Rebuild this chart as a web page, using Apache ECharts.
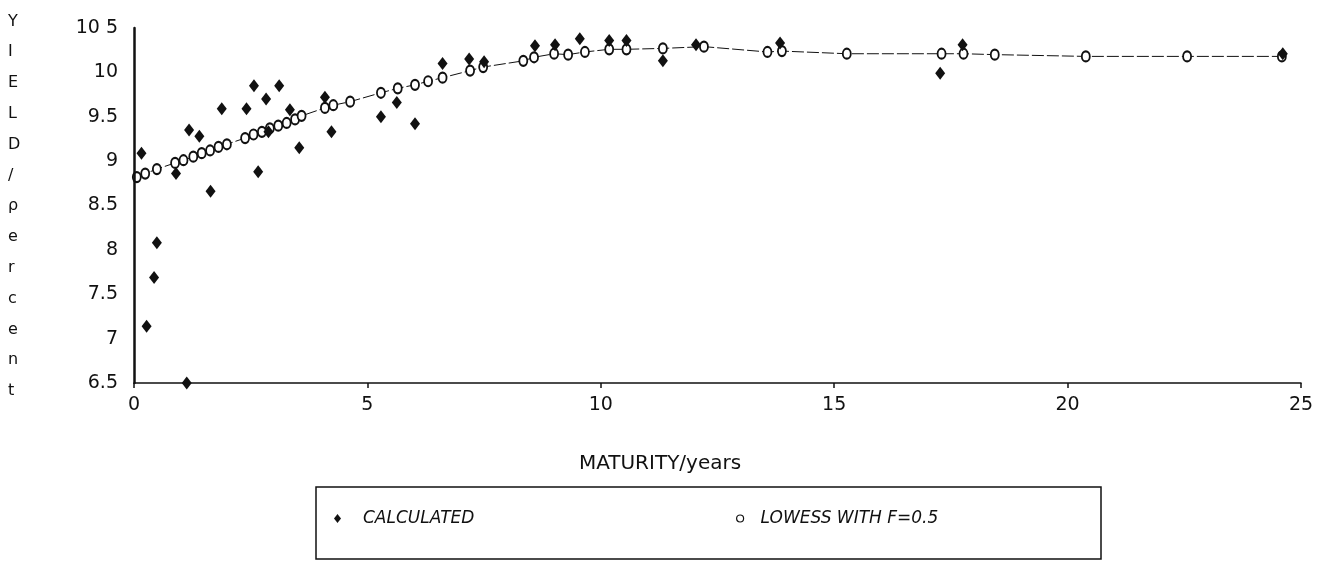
<!DOCTYPE html>
<html>
<head>
<meta charset="utf-8">
<script src="https://cdn.jsdelivr.net/npm/echarts@6/dist/echarts.min.js"></script>
<style>
html,body{margin:0;padding:0;background:#fff;}
#chart{width:1320px;height:562px;}
</style>
</head>
<body>
<div id="chart"></div>
<script>
// ---- data ----
var calcX = [0.16,0.27,0.43,0.49,0.90,1.13,1.18,1.40,1.64,1.88,2.41,2.57,2.66,2.83,2.88,3.11,3.34,3.54,4.09,4.23,5.29,5.63,6.02,6.61,7.18,7.50,8.59,9.02,9.55,10.18,10.55,11.33,12.04,13.84,17.27,17.75,24.61];
var calcY = [9.09,7.14,7.69,8.08,8.86,6.50,9.35,9.28,8.66,9.59,9.59,9.85,8.88,9.70,9.33,9.85,9.58,9.15,9.72,9.33,9.50,9.66,9.42,10.10,10.15,10.12,10.30,10.31,10.38,10.36,10.36,10.13,10.31,10.33,9.99,10.31,10.21];

var lowessX = [0.06,0.24,0.49,0.88,1.06,1.27,1.45,1.63,1.81,1.99,2.38,2.56,2.74,2.91,3.09,3.27,3.45,3.59,4.09,4.27,4.63,5.29,5.65,6.02,6.30,6.61,7.20,7.48,8.34,8.57,9.00,9.30,9.66,10.18,10.55,11.33,12.21,13.57,13.88,15.27,17.30,17.77,18.44,20.39,22.56,24.59];
var lowessY = [8.82,8.86,8.91,8.98,9.01,9.05,9.09,9.12,9.16,9.19,9.26,9.30,9.33,9.37,9.40,9.43,9.47,9.51,9.60,9.63,9.67,9.77,9.82,9.86,9.90,9.94,10.02,10.06,10.13,10.17,10.21,10.20,10.23,10.26,10.26,10.27,10.29,10.23,10.24,10.21,10.21,10.21,10.20,10.18,10.18,10.18];

var xTickLabels = ['0','5','10','15','20','25'];
var yTickLabels = ['6.5','7','7.5','8','8.5','9','9.5','10','10 5'];
var seriesNames = ['CALCULATED','LOWESS WITH F=0.5'];
var xAxisTitle = 'MATURITY/years';
var yAxisTitle = ['Y','I','E','L','D','/','ρ','e','r','c','e','n','t'];

// ---- build ----
function pairs(xs, ys){ var o=[]; for(var i=0;i<xs.length;i++){ o.push([xs[i], ys[i]]); } return o; }
var FONT = '"DejaVu Sans", "Liberation Sans", sans-serif';
var INK = '#111';

var chart = echarts.init(document.getElementById('chart'), null, {renderer:'canvas'});
chart.setOption({
  backgroundColor:'#fff',
  animation:false,
  grid:{left:134, right:19, top:28, bottom:179, containLabel:false},
  xAxis:{
    type:'value', min:0, max:25, interval:5, z:5,
    axisLine:{show:true, onZero:false, lineStyle:{color:INK, width:1.5}},
    axisTick:{show:true, inside:false, length:5, lineStyle:{color:INK, width:1.5}},
    splitLine:{show:false},
    axisLabel:{color:INK, fontFamily:FONT, fontSize:19, margin:13,
      formatter:function(v){ return xTickLabels[Math.round(v/5)]; }}
  },
  yAxis:{
    type:'value', min:6.5, max:10.5, interval:0.5, z:5,
    axisLine:{show:true, onZero:false, lineStyle:{color:INK, width:2.5}},
    axisTick:{show:false},
    splitLine:{show:false},
    axisLabel:{color:INK, fontFamily:FONT, fontSize:19, margin:16,
      formatter:function(v){ return yTickLabels[Math.round((v-6.5)/0.5)]; }}
  },
  legend:[
    {data:[{name:seriesNames[0], icon:'diamond', itemStyle:{color:INK, opacity:1}}],
     left:329, top:505, itemWidth:7, itemHeight:9, selectedMode:false,
     textStyle:{color:INK, fontFamily:FONT, fontSize:17, fontStyle:'italic', padding:[0,0,0,17]}},
    {data:[{name:seriesNames[1], icon:'circle', itemStyle:{color:'#fff', borderColor:INK, borderWidth:1.2}}],
     left:731, top:505, itemWidth:7, itemHeight:8, selectedMode:false,
     textStyle:{color:INK, fontFamily:FONT, fontSize:17, fontStyle:'italic', padding:[0,0,0,12]}}
  ],
  graphic:[
    {type:'text', left:8, top:6, style:{text:yAxisTitle.join('\n'), fill:INK, font:'16px '+FONT, lineHeight:30.8, align:'center'}},
    {type:'text', left:'center', top:454, style:{text:xAxisTitle, fill:INK, font:'20px '+FONT}},
    {type:'rect', shape:{x:316, y:487, width:785, height:72}, style:{fill:'none', stroke:INK, lineWidth:1.5}, silent:true}
  ],
  series:[
    {name:seriesNames[1], type:'line', data:pairs(lowessX, lowessY),
     symbol:'emptyCircle', symbolSize:[8,10], showAllSymbol:true,
     itemStyle:{color:INK, borderColor:INK, borderWidth:2},
     lineStyle:{color:INK, width:1, type:[12,3]}, z:2},
    {name:seriesNames[0], type:'scatter', data:pairs(calcX, calcY),
     symbol:'diamond', symbolSize:[10,13],
     itemStyle:{color:INK, opacity:1}, z:3}
  ]
});
</script>
</body>
</html>
